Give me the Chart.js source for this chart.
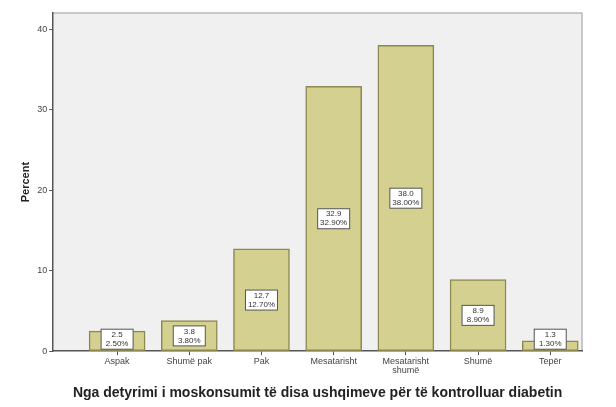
<!DOCTYPE html>
<html>
<head>
<meta charset="utf-8">
<script src="https://cdn.jsdelivr.net/npm/chart.js@4/dist/chart.umd.min.js"></script>
<style>
  html, body { margin: 0; padding: 0; background: #fff; }
  #wrap { width: 616px; height: 407px; }
</style>
</head>
<body>
<div id="wrap"><canvas id="chart" width="616" height="407"></canvas></div>
<script>
const categories = ['Aspak', 'Shumë pak', 'Pak', 'Mesatarisht', 'Mesatarisht shumë', 'Shumë', 'Tepër'];
const percents = [2.5, 3.8, 12.7, 32.9, 38.0, 8.9, 1.3];
const yTicks = [0, 10, 20, 30, 40];

const barFill = '#d4d08f';
const barEdge = '#8c8852';

// plot background + top/right frame like SPSS
const plotFrame = {
    id: 'plotFrame',
    beforeDraw(chart) {
        const { ctx, chartArea: a } = chart;
        ctx.save();
        ctx.fillStyle = '#f0f0f0';
        ctx.fillRect(a.left, a.top, a.right - a.left, a.bottom - a.top);
        ctx.strokeStyle = '#b8b8b8';
        ctx.lineWidth = 1.5;
        ctx.beginPath();
        ctx.moveTo(a.left, a.top);
        ctx.lineTo(a.right, a.top);
        ctx.lineTo(a.right, a.bottom);
        ctx.stroke();
        ctx.restore();
    }
};

// white boxed labels in the middle of each bar
const boxLabels = {
    id: 'boxLabels',
    afterDatasetsDraw(chart) {
        const { ctx } = chart;
        const meta = chart.getDatasetMeta(0);
        const base = chart.scales.y.getPixelForValue(0);
        ctx.save();
        ctx.font = '8px "Liberation Sans"';
        ctx.textAlign = 'center';
        ctx.textBaseline = 'middle';
        meta.data.forEach((bar, i) => {
            const v = percents[i];
            const l1 = v.toFixed(1);
            const l2 = v.toFixed(2) + '%';
            const w = 32, h = 20;
            let cy = (bar.y + base) / 2;
            if (cy + h / 2 > base - 2) cy = base - 2 - h / 2;
            const x = bar.x - w / 2, y = cy - h / 2;
            ctx.fillStyle = '#ffffff';
            ctx.strokeStyle = '#555555';
            ctx.lineWidth = 1;
            ctx.fillRect(x, y, w, h);
            ctx.strokeRect(x, y, w, h);
            ctx.fillStyle = '#333333';
            ctx.fillText(l1, bar.x, cy - 4.5);
            ctx.fillText(l2, bar.x, cy + 4.5);
        });
        ctx.restore();
    }
};

new Chart(document.getElementById('chart'), {
    type: 'bar',
    data: {
        datasets: [{
            label: 'Percent',
            data: percents.map((p, i) => ({ x: i, y: p })),
            backgroundColor: barFill,
            borderColor: barEdge,
            borderWidth: 1.5,
            borderSkipped: false,
            barThickness: 56
        }]
    },
    options: {
        responsive: false,
        animation: false,
        layout: { padding: { left: 19, right: 34, top: 13, bottom: 5 } },
        plugins: { legend: { display: false }, tooltip: { enabled: false } },
        scales: {
            x: {
                type: 'linear',
                min: -0.885,
                max: 6.44,
                offset: false,
                afterBuildTicks: (scale) => {
                    scale.ticks = categories.map((c, i) => ({ value: i }));
                },
                ticks: {
                    autoSkip: false,
                    maxRotation: 0,
                    padding: 2,
                    color: '#444',
                    font: { family: 'Liberation Sans', size: 9, lineHeight: 1.0 },
                    callback: (v) => {
                        const c = categories[v];
                        return c && c.length > 12 ? c.split(' ') : c;
                    }
                },
                grid: { offset: false, drawOnChartArea: false, tickLength: 4, color: '#555' },
                border: { display: true, color: '#555', width: 1.5 },
                title: {
                    display: true,
                    text: 'Nga detyrimi i moskonsumit të disa ushqimeve për të kontrolluar diabetin',
                    color: '#222',
                    font: { family: 'Liberation Sans', size: 14, weight: 'bold' },
                    padding: { top: 8, bottom: 0 }
                }
            },
            y: {
                min: 0,
                max: 42,
                afterBuildTicks: (scale) => {
                    scale.ticks = yTicks.map(t => ({ value: t }));
                },
                ticks: {
                    includeBounds: false,
                    padding: 2,
                    color: '#444',
                    font: { family: 'Liberation Sans', size: 9 }
                },
                grid: { drawOnChartArea: false, tickLength: 4, color: '#555' },
                border: { display: true, color: '#555', width: 1.5 },
                title: {
                    display: true,
                    text: 'Percent',
                    color: '#222',
                    font: { family: 'Liberation Sans', size: 11, weight: 'bold' },
                    padding: { top: 0, bottom: 3 }
                }
            }
        }
    },
    plugins: [plotFrame, boxLabels]
});
</script>
</body>
</html>
